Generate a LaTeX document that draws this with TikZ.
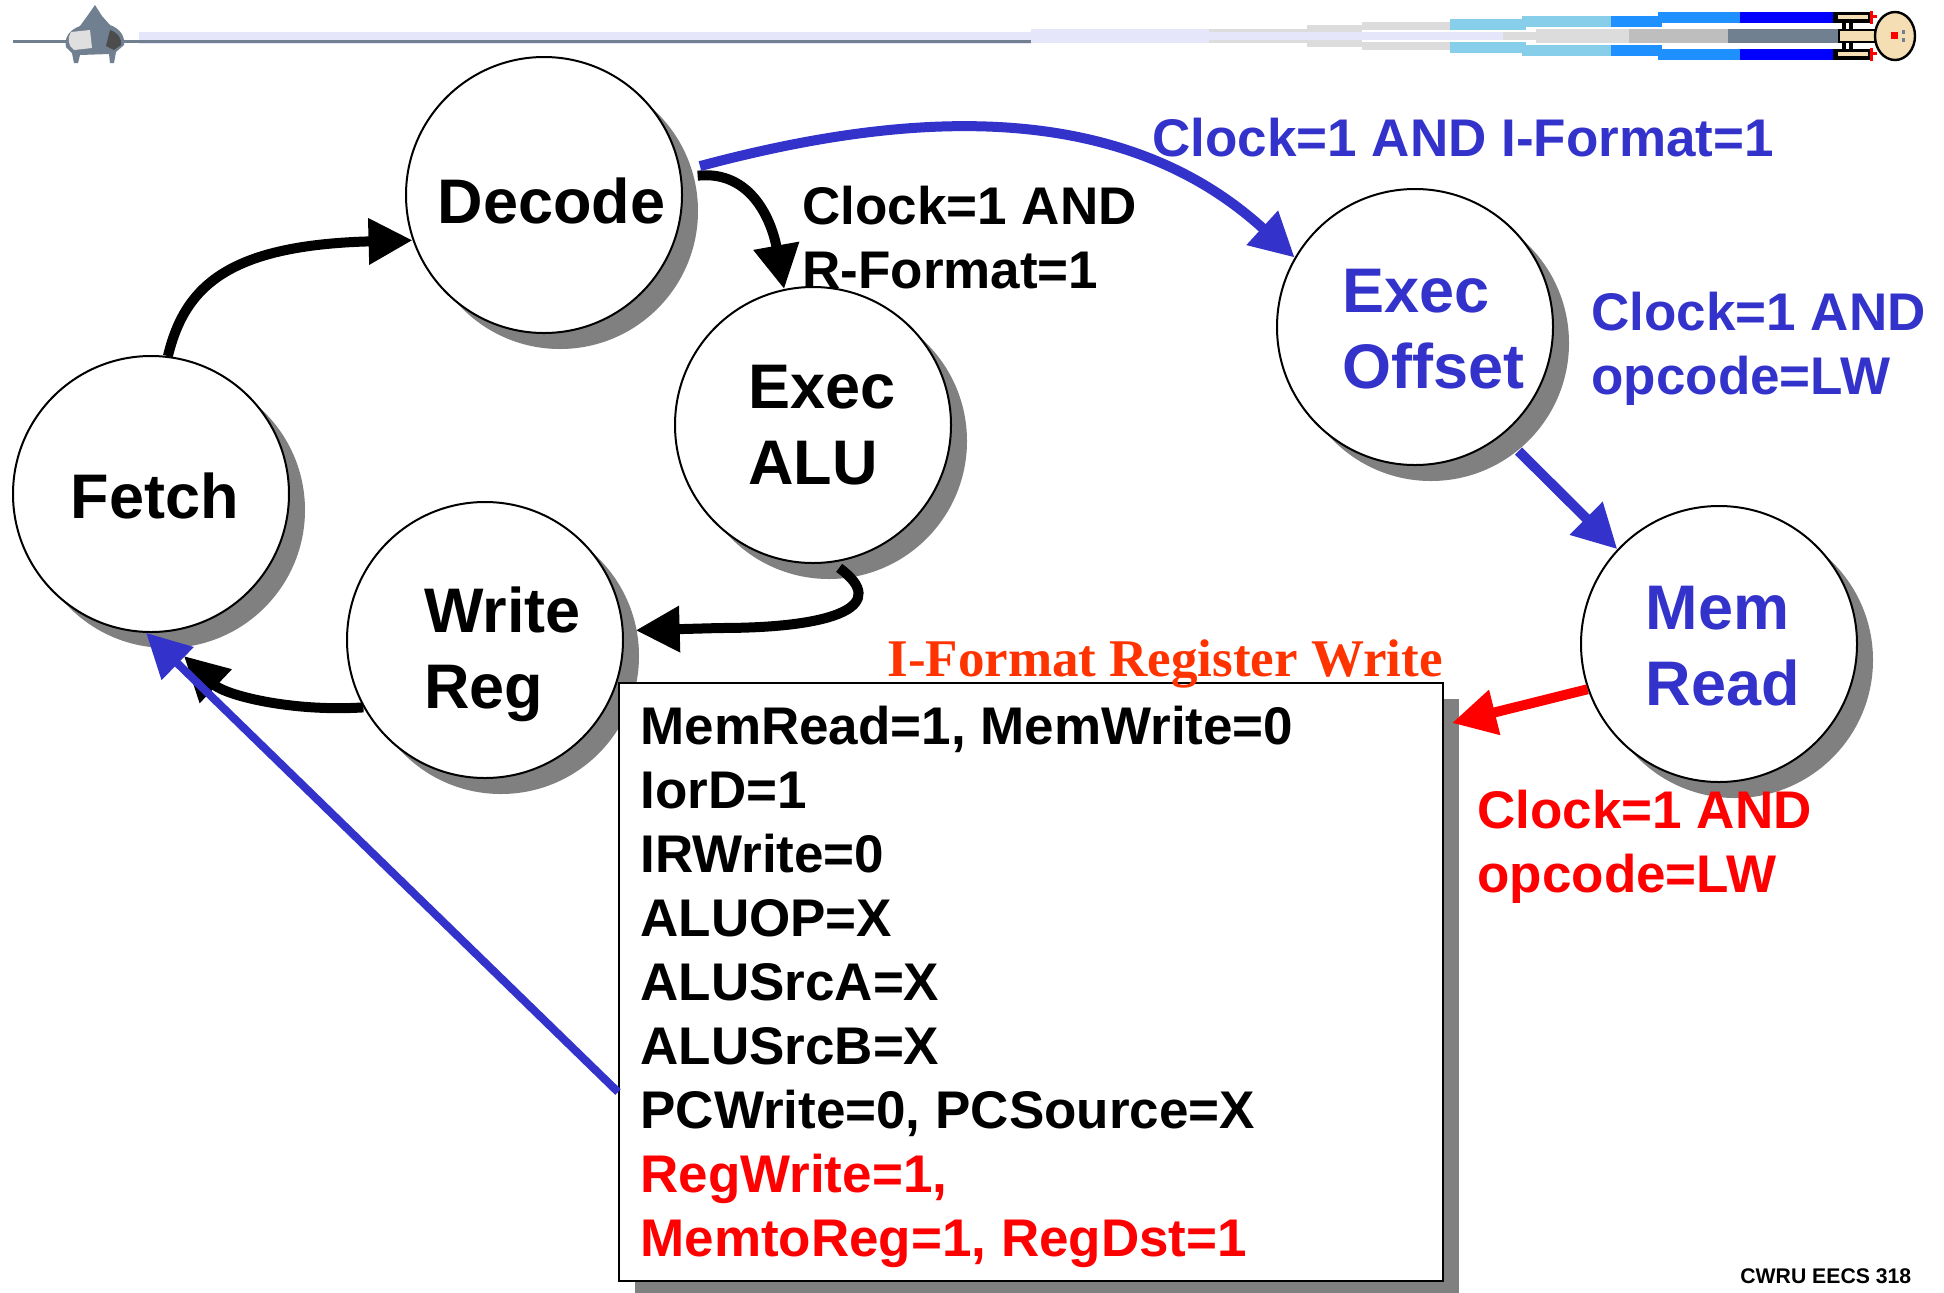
\documentclass[tikz,border=0pt]{standalone}
\usepackage{fontspec}
\setmainfont{Liberation Sans}
\newfontfamily\serifbf{Liberation Serif}
\usetikzlibrary{positioning, calc, arrows.meta, shadows}

\definecolor{blu}{RGB}{51,51,204}
\definecolor{ttl}{RGB}{255,51,0}
\definecolor{shade}{RGB}{128,128,128}
\definecolor{slate}{RGB}{112,128,144}
\definecolor{lav}{RGB}{230,230,250}
\definecolor{ltg}{RGB}{220,220,220}
\definecolor{mdg}{RGB}{190,190,190}
\definecolor{skyb}{RGB}{135,206,235}
\definecolor{dodg}{RGB}{30,144,255}
\definecolor{pureblue}{RGB}{0,0,255}
\definecolor{wheat}{RGB}{245,222,179}

\tikzset{
  state/.style={circle,draw=black,line width=1pt,fill=white,minimum size=138pt,
    inner sep=0pt,
    drop shadow={shadow xshift=8pt,shadow yshift=-8pt,fill=shade,opacity=1}},
  stxt/.style={inner sep=0pt,align=left,font=\bfseries\fontsize{31.5}{38}\selectfont},
  lbl/.style={inner sep=0pt,anchor=base west,align=left,
    font=\bfseries\fontsize{26.5}{32}\selectfont},
  arr/.style={-{Triangle[length=22pt,width=22pt]},line width=5pt},
}

\begin{document}
\begin{tikzpicture}[x=0.5pt,y=-0.5pt]
  \useasboundingbox (0,0) rectangle (1944,1292);
  \fill[white] (0,0) rectangle (1944,1292);

  % title bar: rule on the left, warp trails and ship on the right
  \fill[lav] (139,32) rectangle (1031,44);
  \fill[slate] (13,40) rectangle (1031,42.5);
  \fill[lav] (1031,29) rectangle (1209,43);
  \fill[lav] (1209,32) rectangle (1503,40);
  \foreach \xa/\xb/\ya/\yb/\c in {1209/1307/29/32/ltg, 1307/1362/25/32/ltg,
      1362/1450/22/30/ltg, 1450/1526/19/30/skyb, 1522/1611/16/27/skyb,
      1611/1662/16/27/dodg, 1658/1740/12/23/dodg, 1740/1835/12/23/pureblue}{
    \fill[\c] (\xa,\ya) rectangle (\xb,\yb);
    \fill[\c] (\xa,72-\ya) rectangle (\xb,72-\yb);
  }
  \fill[ltg] (1503,32) rectangle (1536,40);
  \fill[ltg] (1536,29) rectangle (1632,43);
  \fill[mdg] (1629,29) rectangle (1728,43);
  \fill[slate] (1728,29) rectangle (1841,43);
  \foreach \ya in {12,49}{
    \fill[black] (1833,\ya) rectangle (1872,\ya+11);
    \fill[wheat] (1838,\ya+3) rectangle (1868,\ya+7);
    \fill[red] (1870,\ya-1) rectangle (1873,\ya+12);
    \fill[red] (1870,\ya+3) rectangle (1877,\ya+6);
  }
  \fill[black] (1842,23) rectangle (1846,49);
  \fill[black] (1849,23) rectangle (1853,49);
  \filldraw[fill=wheat,draw=black,line width=1pt] (1839,30) rectangle (1880,42);
  \filldraw[fill=wheat,draw=black,line width=1.2pt] (1895,36) ellipse [x radius=10pt,y radius=12pt];
  \fill[red] (1891,32) rectangle (1898,39);
  \fill[slate] (1902,30) rectangle (1905,34);
  \fill[slate] (1902,38) rectangle (1905,42);
  % logo
  \fill[slate] (95,5) -- (102,16) -- (110,25) .. controls (121,29) and (125,37) .. (124,45)
    -- (116,52) -- (114,63) -- (110,63) -- (109,54) -- (80,55) -- (78,63) -- (74,63)
    -- (72,53) -- (66,47) .. controls (64,38) and (69,30) .. (80,26) -- (88,15) -- cycle;
  \fill[gray!25] (71,32) .. controls (67,38) and (68,46) .. (74,50) -- (92,48) -- (90,30) -- cycle;
  \fill[black!70] (110,30) .. controls (119,33) and (122,40) .. (121,45) -- (114,50) -- (106,46) -- cycle;

  % states
  \node[state,label={[stxt,shift={(2pt,-1pt)}]center:Fetch}] (fetch) at (151,494) {};
  \node[state,label={[stxt,shift={(3.7pt,-3pt)}]center:Decode}] (dec) at (544,195) {};
  \node[state,label={[stxt,shift={(4.3pt,0pt)}]center:Exec\\ALU}] (alu) at (813,425) {};
  \node[state,label={[stxt,shift={(8.7pt,-7pt)}]center:Write\\Reg}] (wr) at (485,640) {};
  \node[state,label={[stxt,text=blu,shift={(9.3pt,-1pt)}]center:Exec\\Offset}] (eo) at (1415,327) {};
  \node[state,label={[stxt,text=blu,shift={(1.9pt,-1pt)}]center:Mem\\Read}] (mr) at (1719,644) {};

  % control signals for the I-format write state
  \node[draw=black,line width=1pt,fill=white,anchor=north west,inner sep=0pt,
    minimum width=412pt,minimum height=299pt,
    drop shadow={shadow xshift=8pt,shadow yshift=-8pt,fill=shade,opacity=1}] (box) at (618,682) {};
  \node[lbl] (sig) at (640,1256) {MemRead=1, MemWrite=0\\IorD=1\\IRWrite=0\\ALUOP=X\\
    ALUSrcA=X\\ALUSrcB=X\\PCWrite=0, PCSource=X\\\textcolor{red}{RegWrite=1,}\\
    \textcolor{red}{MemtoReg=1, RegDst=1}};
  \node[lbl,font=\serifbf\bfseries\fontsize{26.5}{32}\selectfont,text=ttl] (ttl) at (887,676)
    {I-Format Register Write};
  \coordinate (rin) at ([shift={(4pt,-20.5pt)}]box.north east);

  % transitions
  \draw[arr] (fetch.83) .. controls (185,285) and (230,245) .. (dec.199);
  \draw[arr] ([xshift=8pt]dec.8) .. controls (752,170) and (772,222) .. (alu.102);
  \draw[arr,blu] ([xshift=10pt]dec.12) .. controls (880,118) and (1110,88) .. (eo.150);
  \draw[arr,blu] ([shift={(8pt,-8pt)}]eo.-51) -- (mr.137);
  \draw[arr,red] (mr.199) -- (rin);
  \draw[arr] ([shift={(1pt,-3pt)}]alu.-80) .. controls (890,605) and (838,628) .. (720,628)
    -- ([xshift=6pt]wr.4);
  \draw[arr] (wr.209) .. controls (290,712) and (225,695) .. ([shift={(2pt,-13pt)}]fetch.-78);
  \draw[arr,blu,line width=4pt] ([yshift=-55pt]box.west) -- (fetch.-92);

  % conditions
  \node[lbl] (rfmt) at (802,288) {Clock=1 AND\\R-Format=1};
  \node[lbl,text=blu] (ifmt) at (1152,156) {Clock=1 AND I-Format=1};
  \node[lbl,text=blu] (lwb) at (1591,394) {Clock=1 AND\\opcode=LW};
  \node[lbl,text=red] (lwr) at (1477,892) {Clock=1 AND\\opcode=LW};

  \node[inner sep=0pt,anchor=base west,font=\bfseries\fontsize{10.6}{12}\selectfont] (crs)
    at (1740,1283) {CWRU EECS 318};
\end{tikzpicture}
\end{document}
